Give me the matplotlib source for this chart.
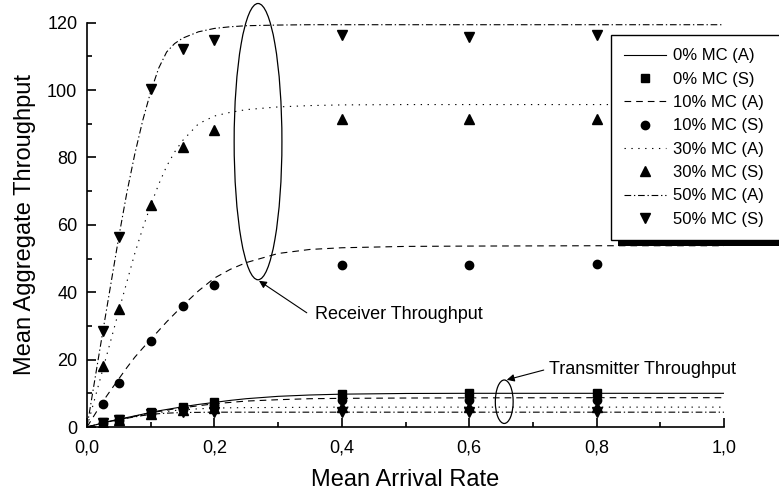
import matplotlib
matplotlib.use("Agg")
from matplotlib import pyplot as plt
from matplotlib.patches import Ellipse, Rectangle
from matplotlib.ticker import MultipleLocator, FuncFormatter

plt.rcParams['font.family'] = ['Liberation Sans', 'DejaVu Sans']

# simulation points (S)
x_sim = [0.025, 0.05, 0.1, 0.15, 0.2, 0.4, 0.6, 0.8]
rx_sim_10 = [6.7, 13.2, 25.4, 35.8, 42.0, 48.2, 48.2, 48.3]
rx_sim_30 = [18.1, 35.0, 66.0, 83.0, 88.3, 91.5, 91.5, 91.5]
rx_sim_50 = [28.5, 56.4, 100.2, 112.3, 114.8, 116.3, 115.8, 116.3]
tx_sim_0 = [1.4, 2.3, 4.4, 5.9, 7.3, 9.9, 10.0, 10.0]
tx_sim_10 = [1.3, 2.2, 4.2, 5.2, 6.4, 8.0, 7.9, 7.9]
tx_sim_30 = [1.3, 2.1, 4.0, 4.9, 5.5, 5.8, 5.8, 5.8]
tx_sim_50 = [1.2, 2.0, 3.8, 4.4, 4.6, 4.5, 4.5, 4.5]

# analytical curves (A)
x_ana = [0, 0.0125, 0.025, 0.0375, 0.05, 0.0625, 0.075, 0.0875, 0.1, 0.1125, 0.125, 0.1375,
         0.15, 0.175, 0.2, 0.225, 0.25, 0.3, 0.35, 0.4, 0.5, 0.6, 0.8, 1.0]
rx_ana_10 = [0, 3.8, 7.6, 11.0, 14.3, 17.6, 20.7, 23.4, 26.0, 28.6, 31.2, 33.6,
             36.0, 40.4, 44.2, 46.8, 48.8, 51.5, 52.7, 53.2, 53.6, 53.7, 53.8, 53.8]
rx_ana_30 = [0, 8.6, 17.2, 25.8, 34.5, 43.0, 51.5, 59.0, 65.8, 72.0, 77.4, 81.6,
             85.0, 90.0, 92.3, 93.4, 94.2, 95.0, 95.4, 95.6, 95.7, 95.7, 95.7, 95.7]
rx_ana_50 = [0, 14.3, 28.5, 42.5, 56.5, 69.5, 81.0, 91.0, 99.5, 106.5, 111.3, 113.8,
             115.4, 117.3, 118.3, 118.8, 119.1, 119.3, 119.4, 119.4, 119.4, 119.4, 119.4, 119.4]
tx_ana_0 = [0, 0.6, 1.2, 1.8, 2.3, 2.8, 3.3, 3.8, 4.3, 4.8, 5.2, 5.6,
            6.0, 6.7, 7.3, 7.9, 8.4, 9.1, 9.5, 9.75, 9.95, 10.0, 10.0, 10.0]
tx_ana_10 = [0, 0.6, 1.2, 1.7, 2.2, 2.7, 3.2, 3.7, 4.2, 4.6, 5.0, 5.4,
             5.7, 6.3, 6.9, 7.3, 7.7, 8.1, 8.4, 8.5, 8.6, 8.65, 8.7, 8.7]
tx_ana_30 = [0, 0.6, 1.2, 1.7, 2.2, 2.7, 3.1, 3.5, 3.9, 4.3, 4.6, 4.9,
             5.1, 5.4, 5.6, 5.7, 5.75, 5.8, 5.85, 5.9, 5.9, 5.9, 5.9, 5.9]
tx_ana_50 = [0, 0.6, 1.2, 1.7, 2.1, 2.6, 3.0, 3.4, 3.7, 3.95, 4.1, 4.2,
             4.3, 4.35, 4.4, 4.4, 4.4, 4.4, 4.4, 4.4, 4.4, 4.4, 4.4, 4.4]

labels = ["0% MC (A)", "0% MC (S)", "10% MC (A)", "10% MC (S)",
          "30% MC (A)", "30% MC (S)", "50% MC (A)", "50% MC (S)"]

fig = plt.figure(figsize=(7.79, 4.95), dpi=100)
ax = fig.add_axes([87 / 779, 68 / 495, 637 / 779, 404.3 / 495])

lw = 0.8
sty_0 = dict(color='k', lw=lw, linestyle='-')
sty_10 = dict(color='k', lw=lw, dashes=(6, 4.5))
sty_30 = dict(color='k', lw=lw, dashes=(1.2, 5))
sty_50 = dict(color='k', lw=lw, dashes=(6, 2.5, 1.2, 2.5))
mk = dict(color='k', linestyle='none')

h = []
# transmitter
h.append(ax.plot(x_ana, tx_ana_0, **sty_0)[0])
h.append(ax.plot(x_sim, tx_sim_0, marker='s', ms=5.5, **mk)[0])
h.append(ax.plot(x_ana, tx_ana_10, **sty_10)[0])
h.append(ax.plot(x_sim, tx_sim_10, marker='o', ms=6, **mk)[0])
h.append(ax.plot(x_ana, tx_ana_30, **sty_30)[0])
h.append(ax.plot(x_sim, tx_sim_30, marker='^', ms=6.5, **mk)[0])
h.append(ax.plot(x_ana, tx_ana_50, **sty_50)[0])
h.append(ax.plot(x_sim, tx_sim_50, marker='v', ms=6.5, **mk)[0])
# receiver
ax.plot(x_ana, rx_ana_10, **sty_10)
ax.plot(x_sim, rx_sim_10, marker='o', ms=6, **mk)
ax.plot(x_ana, rx_ana_30, **sty_30)
ax.plot(x_sim, rx_sim_30, marker='^', ms=6.5, **mk)
ax.plot(x_ana, rx_ana_50, **sty_50)
ax.plot(x_sim, rx_sim_50, marker='v', ms=6.5, **mk)

ax.set_xlim(0, 1.0)
ax.set_ylim(0, 120)
ax.spines['top'].set_visible(False)
ax.spines['right'].set_visible(False)
for s in ['left', 'bottom']:
    ax.spines[s].set_linewidth(1.2)
ax.xaxis.set_major_locator(MultipleLocator(0.2))
ax.xaxis.set_minor_locator(MultipleLocator(0.1))
ax.yaxis.set_major_locator(MultipleLocator(20))
ax.yaxis.set_minor_locator(MultipleLocator(10))
ax.xaxis.set_major_formatter(FuncFormatter(lambda v, p: ("%.1f" % v).replace('.', ',')))
ax.tick_params(which='major', direction='in', length=6.5, width=1.2, labelsize=13)
ax.tick_params(which='minor', direction='in', length=3.5, width=1.2)
ax.tick_params(axis='x', which='major', pad=9)
ax.tick_params(axis='y', which='major', pad=7)
ax.set_xlabel("Mean Arrival Rate", fontsize=17, labelpad=9)
ax.set_ylabel("Mean Aggregate Throughput", fontsize=17, labelpad=8)

# annotations
ax.add_patch(Ellipse((0.2685, 84.7), 0.075, 82, fill=False, lw=0.9, color='k', clip_on=False))
ax.add_patch(Ellipse((0.655, 7.5), 0.028, 12.9, fill=False, lw=0.9, color='k', clip_on=False))
ax.annotate('', xy=(0.27, 43.4), xytext=(0.345, 33.9),
            arrowprops=dict(arrowstyle='-|>', color='k', lw=0.8, mutation_scale=11, shrinkA=0, shrinkB=0))
ax.text(0.358, 33.3, "Receiver Throughput", va='center', ha='left', fontsize=13)
ax.annotate('', xy=(0.659, 14.0), xytext=(0.717, 16.9),
            arrowprops=dict(arrowstyle='-|>', color='k', lw=0.8, mutation_scale=11, shrinkA=0, shrinkB=0))
ax.text(0.725, 17.2, "Transmitter Throughput", va='center', ha='left', fontsize=13)

# legend without its own frame; box + shadow drawn below, running off the right edge
leg = fig.legend(h, labels, loc='upper left', bbox_to_anchor=(611 / 779, 1 - 35 / 495),
                 fontsize=12, frameon=False, borderpad=0.8, handlelength=2.5,
                 handletextpad=0.4, labelspacing=0.5, borderaxespad=0, numpoints=1)
leg.set_zorder(6)

fig.canvas.draw()
bb = leg.get_window_extent()
shadow = Rectangle((bb.x0 + 7, bb.y0 - 6), bb.width + 40, bb.height, facecolor='k',
                   edgecolor='none', transform=None, zorder=4)
box = Rectangle((bb.x0, bb.y0), bb.width + 40, bb.height, facecolor='white',
                edgecolor='k', lw=1.0, transform=None, zorder=5)
fig.add_artist(shadow)
fig.add_artist(box)

fig.savefig("out.png", dpi=100)
